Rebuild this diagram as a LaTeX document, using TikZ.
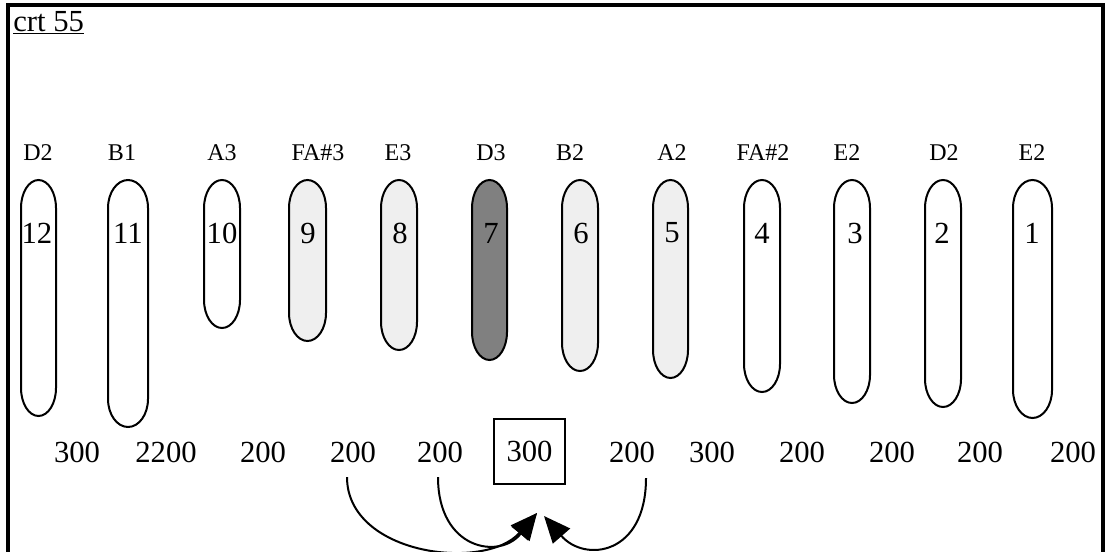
\documentclass[tikz,border=0pt]{standalone}
\usepackage{fontspec}
\setmainfont{Liberation Serif}
\usetikzlibrary{arrows.meta}

\definecolor{tubelight}{HTML}{EFEFEF}
\definecolor{tubedark}{HTML}{808080}

\begin{document}
\begin{tikzpicture}[
			x = 0.75pt, y = -0.75pt,
			frame/.style = {line width = 2.6pt, draw = black},
			tube/.style = {line width = 1.5pt, draw = black, fill = white},
			light/.style = {tube, fill = tubelight},
			dark/.style = {tube, fill = tubedark},
			note/.style = {font = \fontsize{18}{21}\selectfont},
			num/.style = {font = \fontsize{23}{26}\selectfont},
			curve/.style = {
				line width = 1.5pt,
				-{Triangle[length = 20pt, width = 17pt]},
			},
		]

		\useasboundingbox (0,0) rectangle (1112,552);
		\draw[frame] (8,552) -- (8,5) -- (1103,5) -- (1103,552);

		\node[num, anchor = base west, inner sep = 0] (title) at (13,31.5) {\underline{crt 55}};

		\draw[tube] (21,208) arc (180:360:17.5 and 28) -- (56,388) arc (0:180:17.5 and 28) -- cycle;
		\draw[tube] (108,208) arc (180:360:20 and 28) -- (148,399) arc (0:180:20 and 28) -- cycle;
		\draw[tube] (204,208) arc (180:360:18 and 28) -- (240,300) arc (0:180:18 and 28) -- cycle;
		\draw[light] (289,208) arc (180:360:18.5 and 28) -- (326,313) arc (0:180:18.5 and 28) -- cycle;
		\draw[light] (381,208) arc (180:360:18 and 28) -- (417,322) arc (0:180:18 and 28) -- cycle;
		\draw[dark] (472,208) arc (180:360:17.5 and 28) -- (507,332) arc (0:180:17.5 and 28) -- cycle;
		\draw[light] (562,208) arc (180:360:18 and 28) -- (598,343) arc (0:180:18 and 28) -- cycle;
		\draw[light] (653,208) arc (180:360:17.5 and 28) -- (688,350) arc (0:180:17.5 and 28) -- cycle;
		\draw[tube] (744,208) arc (180:360:18 and 28) -- (780,364) arc (0:180:18 and 28) -- cycle;
		\draw[tube] (834,208) arc (180:360:18 and 28) -- (870,375) arc (0:180:18 and 28) -- cycle;
		\draw[tube] (925,208) arc (180:360:18 and 28) -- (961,379) arc (0:180:18 and 28) -- cycle;
		\draw[tube] (1013,208) arc (180:360:19.5 and 28) -- (1052,390) arc (0:180:19.5 and 28) -- cycle;

		\node[num] (t12) at (37,233) {12};
		\node[num] (t11) at (128,233) {11};
		\node[num] (t10) at (222,233) {10};
		\node[num] (t9) at (308,233) {9};
		\node[num] (t8) at (400,233) {8};
		\node[num] (t7) at (491,233) {7};
		\node[num] (t6) at (581,233) {6};
		\node[num] (t5) at (672,233) {5};
		\node[num] (t4) at (762,233) {4};
		\node[num] (t3) at (855,233) {3};
		\node[num] (t2) at (942,233) {2};
		\node[num] (t1) at (1032,233) {1};

		\node[note] (n12) at (38,153) {D2};
		\node[note] (n11) at (122,153) {B1};
		\node[note] (n10) at (222,153) {A3};
		\node[note] (n9) at (318,153) {FA\#3};
		\node[note] (n8) at (398,153) {E3};
		\node[note] (n7) at (491,153) {D3};
		\node[note] (n6) at (570,153) {B2};
		\node[note] (n5) at (672,153) {A2};
		\node[note] (n4) at (763,153) {FA\#2};
		\node[note] (n3) at (847,153) {E2};
		\node[note] (n2) at (944,153) {D2};
		\node[note] (n1) at (1032,153) {E2};

		\node[num] (sp1) at (77,452) {300};
		\node[num] (sp2) at (166,452) {2200};
		\node[num] (sp3) at (263,452) {200};
		\node[num] (sp4) at (353,452) {200};
		\node[num] (sp5) at (440,452) {200};
		\node[
			num, draw, line width = 1.2pt,
			minimum width = 53pt, minimum height = 49pt,
		] (sp6) at (529.5,451.5) {300};
		\node[num] (sp7) at (632,452) {200};
		\node[num] (sp8) at (712,452) {300};
		\node[num] (sp9) at (802,452) {200};
		\node[num] (sp10) at (892,452) {200};
		\node[num] (sp11) at (980,452) {200};
		\node[num] (sp12) at (1073,452) {200};

		\coordinate (tipL) at (537,513);
		\coordinate (tipR) at (544,516);
		\draw[curve] (sp4.south) ++(-6,10) .. controls +(0,78) and +(-52,59) .. (tipL);
		\draw[curve] (sp5.south) ++(-2,10) .. controls +(0,73) and +(-37,47) .. (tipL);
		\draw[curve] (sp7.south) ++(14,11) .. controls +(0,77) and +(41,47) .. (tipR);

	\end{tikzpicture}
\end{document}
